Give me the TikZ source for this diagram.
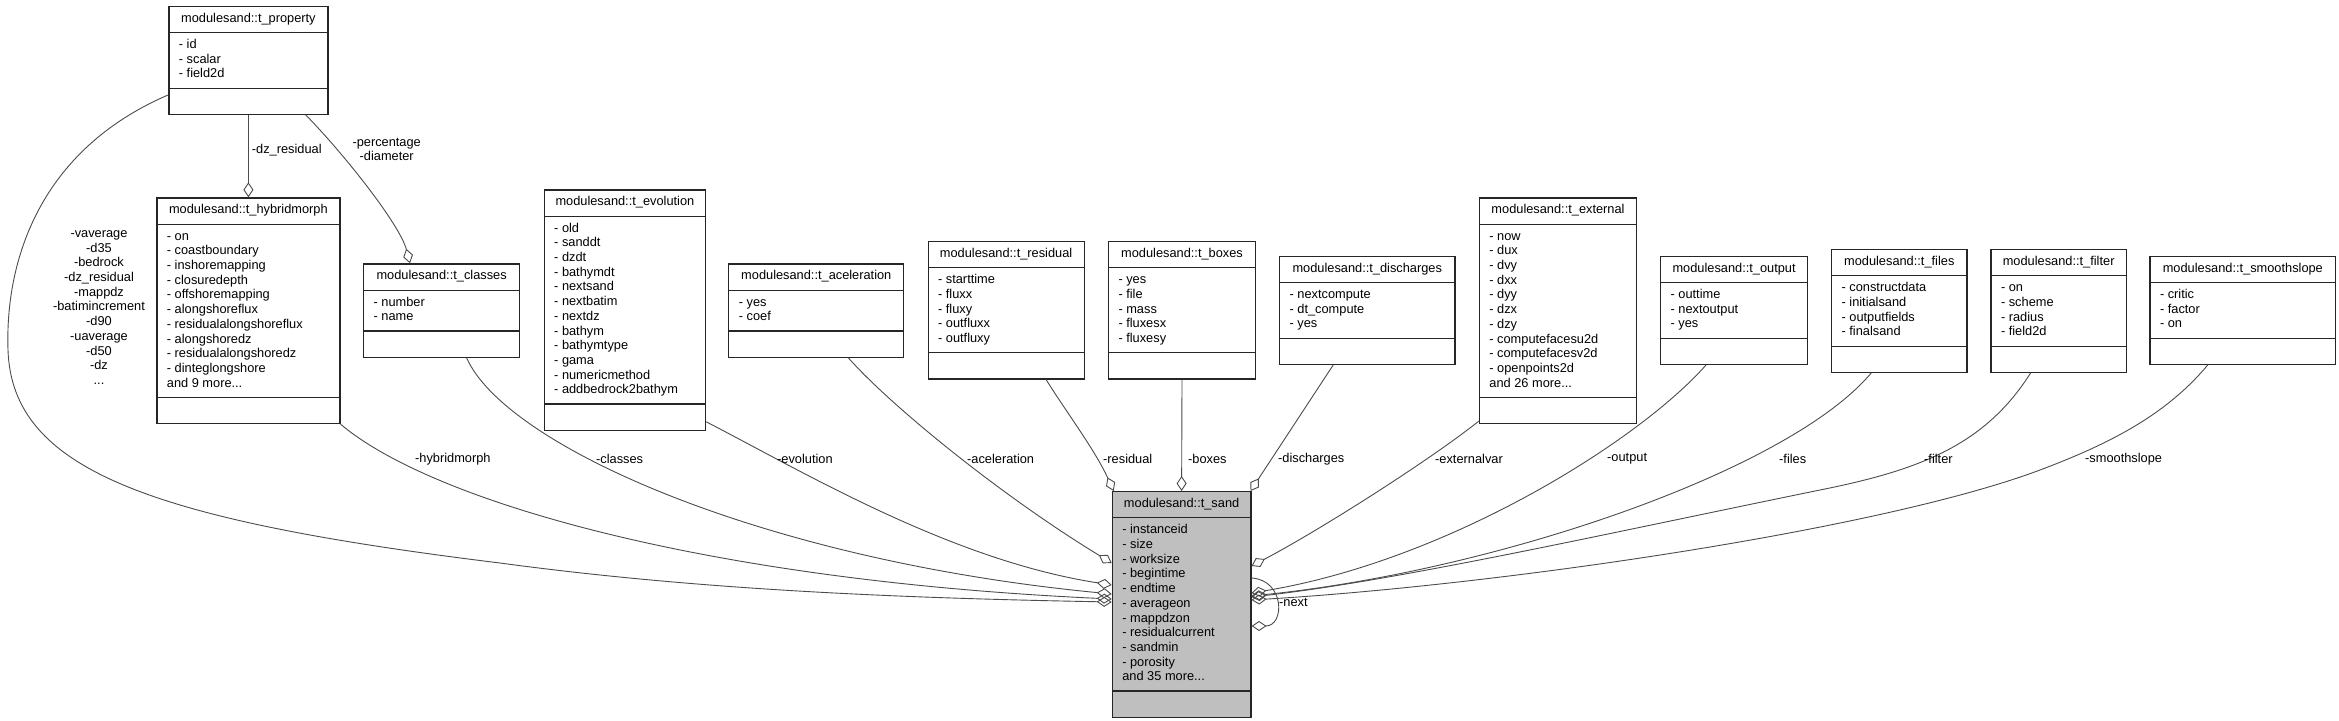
\documentclass[tikz,border=0pt]{standalone}
\usepackage{fontspec}
\setmainfont{Liberation Sans}
\usetikzlibrary{shapes.multipart,arrows.meta,calc}
\newcommand{\members}[1]{\begin{tabular}{@{}l@{}}#1\end{tabular}}

\begin{document}
\begin{tikzpicture}[x=1pt, y=-1pt,
    every node/.style={font=\fontsize{12.8}{14.7}\selectfont},
    umlclass/.style={rectangle split, rectangle split parts=3,
      rectangle split part align={center,left,left},
      draw=black!85, line width=1.2pt, fill=white,
      inner xsep=10pt, inner ysep=5.15pt, anchor=north west},
    sandclass/.style={umlclass, fill=black!25},
    assoc/.style={draw=black!70, line width=0.9pt,
      -{Diamond[open, length=15pt, width=10pt]}},
    lbl/.style={inner sep=0pt, anchor=west},
  ]
  \fill[white] (0,0) rectangle (2339,720);
  \useasboundingbox (0,0) rectangle (2339,720);

  \node[umlclass, minimum width=159pt] (prop) at (168.3,5.7)
    {modulesand::t\_property\strut
     \nodepart{two}\members{- id\\- scalar\\- field2d}
     \nodepart{three}\strut};
  \node[umlclass, minimum width=183pt] (hybrid) at (156.3,197.3)
    {modulesand::t\_hybridmorph\strut
     \nodepart{two}\members{- on\\- coastboundary\\- inshoremapping\\- closuredepth\\- offshoremapping\\- alongshoreflux\\- residualalongshoreflux\\- alongshoredz\\- residualalongshoredz\\- dinteglongshore\\and 9 more...}
     \nodepart{three}\strut};
  \node[umlclass, minimum width=156pt] (classes) at (363,263.3)
    {modulesand::t\_classes\strut
     \nodepart{two}\members{- number\\- name}
     \nodepart{three}\strut};
  \node[umlclass, minimum width=161.4pt] (evol) at (543.6,189.3)
    {modulesand::t\_evolution\strut
     \nodepart{two}\members{- old\\- sanddt\\- dzdt\\- bathymdt\\- nextsand\\- nextbatim\\- nextdz\\- bathym\\- bathymtype\\- gama\\- numericmethod\\- addbedrock2bathym}
     \nodepart{three}\strut};
  \node[umlclass, minimum width=175pt] (acel) at (728.2,263.3)
    {modulesand::t\_aceleration\strut
     \nodepart{two}\members{- yes\\- coef}
     \nodepart{three}\strut};
  \node[umlclass, minimum width=156pt] (resid) at (927.5,241)
    {modulesand::t\_residual\strut
     \nodepart{two}\members{- starttime\\- fluxx\\- fluxy\\- outfluxx\\- outfluxy}
     \nodepart{three}\strut};
  \node[umlclass, minimum width=147pt] (boxes) at (1107.9,241)
    {modulesand::t\_boxes\strut
     \nodepart{two}\members{- yes\\- file\\- mass\\- fluxesx\\- fluxesy}
     \nodepart{three}\strut};
  \node[umlclass, minimum width=175.3pt] (disch) at (1279,255.7)
    {modulesand::t\_discharges\strut
     \nodepart{two}\members{- nextcompute\\- dt\_compute\\- yes}
     \nodepart{three}\strut};
  \node[umlclass, minimum width=157.2pt] (ext) at (1478.8,197.3)
    {modulesand::t\_external\strut
     \nodepart{two}\members{- now\\- dux\\- dvy\\- dxx\\- dyy\\- dzx\\- dzy\\- computefacesu2d\\- computefacesv2d\\- openpoints2d\\and 26 more...}
     \nodepart{three}\strut};
  \node[umlclass, minimum width=147pt] (out) at (1660,255.7)
    {modulesand::t\_output\strut
     \nodepart{two}\members{- outtime\\- nextoutput\\- yes}
     \nodepart{three}\strut};
  \node[umlclass, minimum width=135.3pt] (files) at (1831,249)
    {modulesand::t\_files\strut
     \nodepart{two}\members{- constructdata\\- initialsand\\- outputfields\\- finalsand}
     \nodepart{three}\strut};
  \node[umlclass, minimum width=135.3pt] (filter) at (1990.4,249)
    {modulesand::t\_filter\strut
     \nodepart{two}\members{- on\\- scheme\\- radius\\- field2d}
     \nodepart{three}\strut};
  \node[umlclass, minimum width=185.6pt] (smooth) at (2149.4,255.7)
    {modulesand::t\_smoothslope\strut
     \nodepart{two}\members{- critic\\- factor\\- on}
     \nodepart{three}\strut};
  \node[sandclass, minimum width=138.6pt] (sand) at (1111.7,491)
    {modulesand::t\_sand\strut
     \nodepart{two}\members{- instanceid\\- size\\- worksize\\- begintime\\- endtime\\- averageon\\- mappdzon\\- residualcurrent\\- sandmin\\- porosity\\and 35 more...}
     \nodepart{three}\strut};

  \draw[assoc] (prop.south) -- (hybrid.north);
  \draw[assoc] ($(prop.south west)+(137.4,0)$) .. controls (345,155) and (400,225) .. ($(classes.north west)+(47,0)$);
  \draw[assoc] ($(prop.south west)+(0,-20)$) .. controls (40,150) and (5,260) .. (8,350)
    .. controls (12,470) and (150,520) .. (500,563)
    .. controls (700,590) and (900,598) .. ($(sand.north west)+(0,111)$);
  \draw[assoc] (hybrid.south east) .. controls (430,500) and (700,580) .. ($(sand.north west)+(0,108)$);
  \draw[assoc] ($(classes.south)+(25,0)$) .. controls (505,445) and (760,560) .. ($(sand.north west)+(0,103)$);
  \draw[assoc] ($(evol.south east)+(0,-9)$) .. controls (800,470) and (950,560) .. ($(sand.north west)+(0,94)$);
  \draw[assoc] ($(acel.south)+(32,0)$) .. controls (890,405) and (1000,495) .. ($(sand.north west)+(0,72)$);
  \draw[assoc] ($(resid.south)+(40,0)$) .. controls (1065,410) and (1095,450) .. ($(sand.north west)+(2,0)$);
  \draw[assoc] (boxes.south) -- (sand.north);
  \draw[assoc] ($(disch.south)+(-34,0)$) -- ($(sand.north east)+(-1,0)$);
  \draw[assoc] ($(ext.south west)+(0,-3)$) .. controls (1430,460) and (1320,530) .. ($(sand.north east)+(0,75)$);
  \draw[assoc] ($(out.south)+(-28,0)$) .. controls (1640,440) and (1450,560) .. ($(sand.north east)+(0,102)$);
  \draw[assoc] ($(files.south)+(-28,0)$) .. controls (1790,470) and (1500,570) .. ($(sand.north east)+(0,105)$);
  \draw[assoc] ($(filter.south)+(-28,0)$) .. controls (1985,445) and (1920,470) .. (1820,490)
    .. controls (1600,535) and (1400,580) .. ($(sand.north east)+(0,106)$);
  \draw[assoc] ($(smooth.south)+(-35,0)$) .. controls (2170,410) and (2120,440) .. (2040,470)
    .. controls (1880,530) and (1500,585) .. ($(sand.north east)+(0,109)$);
  \draw[assoc] ($(sand.north east)+(0,87)$) .. controls (1285,580) and (1285,626) .. ($(sand.north east)+(0,135)$);

  \node[lbl] (ldz) at (251.7,150) {-dz\_residual};
  \node[lbl, anchor=center, align=center] (lpct) at (386.7,149.5) {-percentage\\-diameter};
  \node[lbl, anchor=center, align=center] (lprop) at (99,307.5)
    {-vaverage\\-d35\\-bedrock\\-dz\_residual\\-mappdz\\-batimincrement\\-d90\\-uaverage\\-d50\\-dz\\...};
  \node[lbl] (lhyb) at (415,459) {-hybridmorph};
  \node[lbl] (lcls) at (596,459) {-classes};
  \node[lbl] (levo) at (777,459) {-evolution};
  \node[lbl] (lacc) at (967,459) {-aceleration};
  \node[lbl] (lres) at (1103,459) {-residual};
  \node[lbl] (lbox) at (1188,459) {-boxes};
  \node[lbl] (ldis) at (1278,459) {-discharges};
  \node[lbl] (lext) at (1435,459) {-externalvar};
  \node[lbl] (lout) at (1607,459) {-output};
  \node[lbl] (lfil) at (1779,459) {-files};
  \node[lbl] (lflt) at (1924,459) {-filter};
  \node[lbl] (lsmo) at (2085,459) {-smoothslope};
  \node[lbl] (lnxt) at (1279,602) {-next};
\end{tikzpicture}
\end{document}
